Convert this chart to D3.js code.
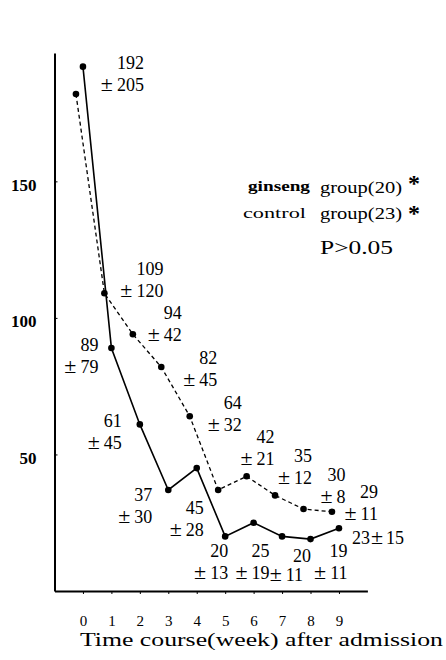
<!DOCTYPE html>
<html>
<head>
<meta charset="utf-8">
<script src="https://cdnjs.cloudflare.com/ajax/libs/d3/7.8.5/d3.min.js"></script>
<style>
  body { margin: 0; background: #fff; }
  svg { display: block; }
</style>
</head>
<body>
<div id="chart"></div>
<script>
// values (week 0 and week 5 of control have no printed label)
var weeks = [0, 1, 2, 3, 4, 5, 6, 7, 8, 9]
var ginsengMean = [192, 89, 61, 37, 45, 20, 25, 20, 19, 23]
var ginsengSD   = [205, 79, 45, 30, 28, 13, 19, 11, 11, 15]
var controlMean = [182, 109, 94, 82, 64, 37, 42, 35, 30, 29]
var controlSD   = [null, 120, 42, 45, 32, null, 21, 12, 8, 11]
var yTicks = [50, 100, 150]
var groupNames = ["ginseng", "control"]
var groupSizes = [20, 23]
var pNote = "P>0.05"
var xTitle = "Time course(week) after admission"

// where each mean/sd pair sits relative to its dot [dx, dy, dx2, dy2]
var ginsengNudge = [[61, 2], [-13, 3], [-18, 3], [-16, 11], [7, 46], [3, 21], [16, 34], [29, 26, -8, 19], [37, 18], [13, 16]]
var controlNudge = [null, [59, -18], [49, -15], [56, -3], [52, -7], null, [28, -33], [37, -33], [42, -28], [46, -14]]

var serif = "Liberation Serif"

;(function() {
    var width = 446, height = 660

    var svg = d3.select("#chart")
                .append("svg")
                .attr("width", width)
                .attr("height", height)
                .attr("font-family", serif)

    var x = d3.scaleLinear().domain([-1, 10]).range([54.5, 367.4])
    var y = d3.scaleLinear().domain([0, 197]).range([591, 53])
    var shift = -7  // control curve is drawn a little left of the week tick

    // axes
    var yAxis = svg.append("g")
        .attr("transform", "translate(" + x(-1) + ",0)")
        .call(d3.axisLeft(y).tickValues(yTicks).tickSizeInner(-3).tickSizeOuter(0).tickPadding(18))
    yAxis.attr("font-family", serif)
    yAxis.select(".domain").attr("stroke-width", 2)
    yAxis.selectAll("text")
        .attr("font-size", 17)
        .attr("font-weight", "bold")
        .attr("fill", "#000")
        .attr("dy", "0.52em")

    var xAxis = svg.append("g")
        .attr("transform", "translate(0," + y(0) + ")")
        .call(d3.axisBottom(x).tickValues(weeks).tickSize(3).tickSizeOuter(0).tickPadding(21))
    xAxis.attr("font-family", serif)
    xAxis.select(".domain").attr("stroke-width", 2)
    xAxis.selectAll("text")
        .attr("font-size", 15)
        .attr("fill", "#000")

    svg.append("text")
        .attr("x", 80)
        .attr("y", 646)
        .attr("font-size", 18)
        .attr("textLength", 363)
        .attr("lengthAdjust", "spacingAndGlyphs")
        .text(xTitle)

    // curves
    var ginseng = weeks.map(function(w, i) { return { w: w, m: ginsengMean[i], sd: ginsengSD[i], n: ginsengNudge[i] } })
    var control = weeks.map(function(w, i) { return { w: w, m: controlMean[i], sd: controlSD[i], n: controlNudge[i] } })

    var lineG = d3.line().x(function(d) { return x(d.w) }).y(function(d) { return y(d.m) })
    var lineC = d3.line().x(function(d) { return x(d.w) + shift }).y(function(d) { return y(d.m) })

    svg.append("path")
        .datum(control)
        .attr("d", lineC)
        .attr("fill", "none")
        .attr("stroke", "#000")
        .attr("stroke-width", 1.3)
        .attr("stroke-dasharray", "4,3")

    svg.append("path")
        .datum(ginseng)
        .attr("d", lineG)
        .attr("fill", "none")
        .attr("stroke", "#000")
        .attr("stroke-width", 1.6)

    svg.selectAll(".dot-c")
        .data(control)
        .enter().append("circle")
        .attr("class", "dot-c")
        .attr("cx", function(d) { return x(d.w) + shift })
        .attr("cy", function(d) { return y(d.m) })
        .attr("r", 3.3)

    svg.selectAll(".dot-g")
        .data(ginseng)
        .enter().append("circle")
        .attr("class", "dot-g")
        .attr("cx", function(d) { return x(d.w) })
        .attr("cy", function(d) { return y(d.m) })
        .attr("r", 3.3)

    // mean / sd labels
    function label(px, py, d, last) {
        if (d.sd == null || !d.n) return
        var tx = px + d.n[0], ty = py + d.n[1]
        if (last) {
            var t = svg.append("text").attr("x", tx).attr("y", ty).attr("font-size", 18)
            t.append("tspan").text(d.m)
            t.append("tspan").attr("dx", 1).attr("font-size", 22).text("±")
            t.append("tspan").attr("dx", 3).text(d.sd)
            return
        }
        svg.append("text")
            .attr("x", tx).attr("y", ty)
            .attr("text-anchor", "end")
            .attr("font-size", 18)
            .text(d.m)
        var t2 = svg.append("text")
            .attr("x", tx + (d.n[2] || 0))
            .attr("y", ty + (d.n[3] || 22))
            .attr("text-anchor", "end")
            .attr("font-size", 18)
        t2.append("tspan").attr("font-size", 22).text("±")
        t2.append("tspan").attr("dx", 4).text(d.sd)
    }

    ginseng.forEach(function(d, i) { label(x(d.w), y(d.m), d, i == ginseng.length - 1) })
    control.forEach(function(d) { label(x(d.w) + shift, y(d.m), d, false) })

    // legend
    var leg = svg.append("g")
    leg.append("text").attr("x", 248).attr("y", 191).attr("font-size", 15).attr("font-weight", "bold")
        .attr("textLength", 62).attr("lengthAdjust", "spacingAndGlyphs").text(groupNames[0])
    leg.append("text").attr("x", 243).attr("y", 218).attr("font-size", 15)
        .attr("textLength", 63).attr("lengthAdjust", "spacingAndGlyphs").text(groupNames[1])
    groupSizes.forEach(function(n, i) {
        leg.append("text").attr("x", 320).attr("y", 193 + i * 26).attr("font-size", 17)
            .attr("textLength", 82).attr("lengthAdjust", "spacingAndGlyphs").text("group(" + n + ")")
        leg.append("text").attr("x", 408).attr("y", 191 + i * 30).attr("font-size", 24)
            .attr("font-weight", "bold").text("*")
    })
    leg.append("text").attr("x", 320).attr("y", 254).attr("font-size", 18)
        .attr("textLength", 73).attr("lengthAdjust", "spacingAndGlyphs").text(pNote)
})();
</script>
</body>
</html>
